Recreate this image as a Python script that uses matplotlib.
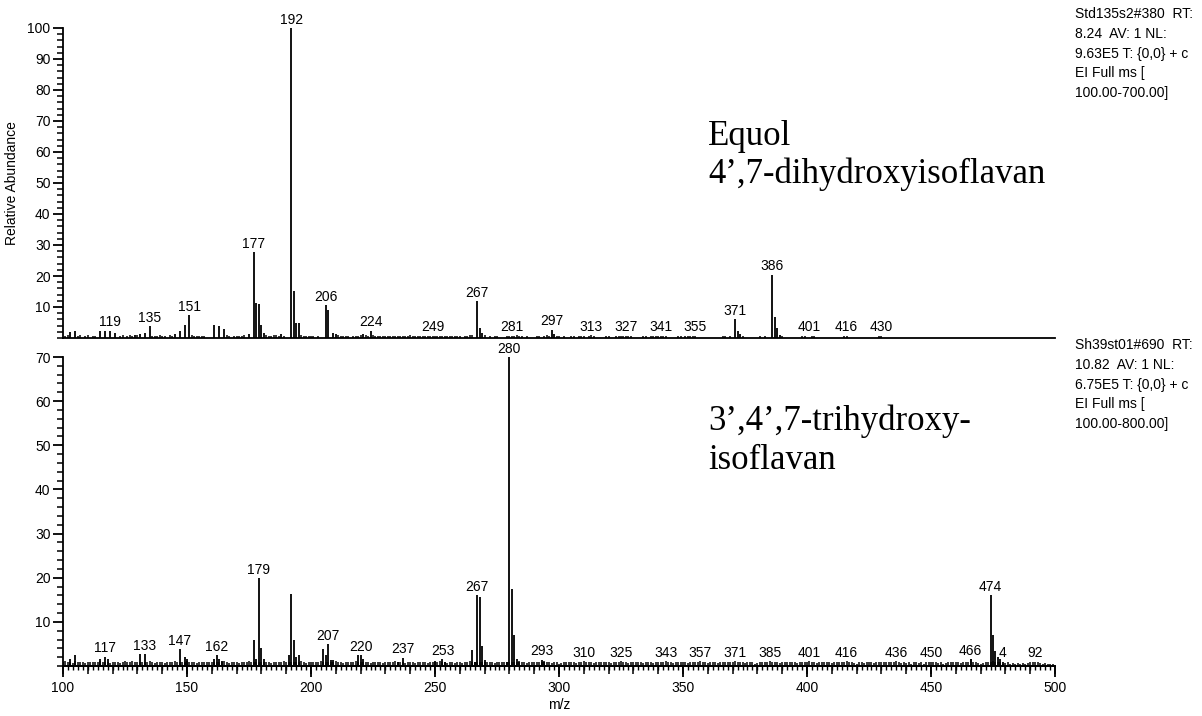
import matplotlib
matplotlib.use("Agg")
import matplotlib.pyplot as plt
from matplotlib.ticker import MultipleLocator

plt.rcParams['font.family'] = ['Liberation Sans', 'DejaVu Sans']

# --- верхний спектр (Equol) ---
top_mz = [103, 105, 115, 117, 119, 121, 129, 131, 133, 135, 145, 147, 149, 151,
          161, 163, 165, 175, 177, 178, 179, 180, 181, 188, 192, 193, 194, 195,
          206, 207, 209, 210, 221, 224, 267, 268, 269, 297, 298, 371, 372, 373,
          386, 387, 388, 389]
top_int = [2.0, 2.4, 2.4, 2.4, 2.4, 1.5, 1.0, 1.3, 1.6, 3.8, 1.2, 2.4, 4.3, 7.3,
           4.3, 3.8, 3.0, 1.3, 27.7, 11.3, 11.1, 4.1, 1.5, 1.4, 100, 15.1, 4.8, 4.8,
           10.5, 9.1, 1.6, 1.3, 1.3, 2.4, 11.8, 3.1, 1.5, 2.7, 1.2, 6.1, 2.4, 1.2,
           20.4, 6.9, 3.1, 1.0]

# мелкие пики (шум) верхнего спектра
top_noise_mz = [101, 102, 106, 107, 109, 110, 112, 113, 123, 124, 126, 127, 128, 130,
                136, 137, 138, 139, 140, 141, 143, 144, 152, 153, 154, 155, 156, 157,
                166, 167, 169, 170, 171, 172, 173, 182, 183, 184, 185, 186, 187, 189,
                196, 197, 198, 199, 200, 201, 203, 211, 212, 213, 214, 215, 217, 218,
                219, 220, 222, 223, 225, 226, 227, 228, 229, 230, 231, 232, 233, 234,
                235, 236, 237, 238, 239, 240, 241, 242, 243, 244, 245, 246, 247, 248,
                249, 250, 251, 252, 253, 254, 255, 256, 257, 258, 259, 260, 262, 263,
                264, 265, 270, 272, 274, 275, 279, 280, 281, 282, 283, 284, 285, 287,
                291, 292, 294, 295, 296, 299, 300, 302, 305, 306, 308, 309, 310, 312,
                313, 314, 319, 320, 323, 324, 325, 326, 327, 328, 329, 334, 335, 337,
                338, 339, 340, 341, 342, 343, 348, 349, 351, 352, 353, 354, 355, 366,
                367, 369, 374, 381, 383, 390, 398, 399, 402, 403, 415, 416, 429, 430]
top_noise_int = [0.8, 0.9, 0.8, 1.0, 0.7, 0.9, 0.8, 0.7, 0.8, 0.9, 0.7, 1.0, 0.8, 0.9,
                 0.7, 0.8, 0.7, 0.9, 0.7, 0.8, 1.0, 0.8, 1.0, 0.8, 0.7, 0.7, 0.8, 0.7,
                 1.0, 0.8, 0.7, 0.8, 0.7, 0.8, 0.9, 1.0, 0.8, 0.7, 1.0, 1.0, 0.8, 0.7,
                 0.9, 0.8, 0.7, 0.7, 0.8, 0.7, 0.8, 1.0, 0.7, 0.6, 0.7, 0.8, 0.7, 0.8,
                 0.7, 0.9, 1.0, 0.8, 0.9, 0.7, 0.6, 0.8, 0.7, 0.6, 0.7, 0.8, 0.7, 0.6,
                 0.7, 0.8, 0.7, 0.6, 0.7, 0.9, 0.7, 0.6, 0.7, 0.8, 0.7, 0.6, 0.7, 0.8,
                 0.6, 0.7, 0.8, 0.7, 0.6, 0.7, 0.8, 0.7, 0.6, 0.7, 0.6, 0.8, 0.7, 0.8,
                 0.9, 1.0, 1.0, 0.8, 0.5, 0.5, 0.7, 0.6, 0.8, 0.7, 0.9, 0.7, 0.6, 0.6,
                 0.6, 0.7, 0.7, 0.9, 0.6, 0.8, 0.6, 0.5, 0.6, 0.7, 0.6, 0.8, 0.7, 0.6,
                 0.9, 0.7, 0.6, 0.7, 0.6, 0.7, 0.8, 0.7, 0.8, 0.7, 0.6, 0.6, 0.7, 0.6,
                 0.7, 0.8, 0.7, 0.8, 0.7, 0.6, 0.6, 0.7, 0.6, 0.7, 0.8, 0.7, 0.7, 0.6,
                 0.7, 0.8, 0.8, 0.6, 0.7, 0.8, 0.7, 0.7, 0.8, 0.7, 0.7, 0.8, 0.7, 0.7]

top_labels = [119, 135, 151, 177, 192, 206, 224, 249, 267, 281, 297, 313, 327,
              341, 355, 371, 386, 401, 416, 430]
top_label_y = [2.4, 3.8, 7.3, 27.7, 100, 10.5, 2.4, 1.0, 11.8, 1.0, 2.7, 1.0, 0.8,
               0.8, 0.8, 6.1, 20.4, 0.8, 0.8, 0.8]

# --- нижний спектр (3',4',7-тригидроксиизофлаван) ---
bot_mz = [103, 105, 115, 117, 118, 131, 133, 147, 149, 150, 161, 162, 163, 164,
          177, 178, 179, 180, 181, 191, 192, 193, 194, 195, 205, 206, 207, 208, 209,
          219, 220, 221, 235, 237, 250, 253, 254, 265, 266, 267, 268, 269, 270,
          279, 280, 281, 282, 283, 284, 293, 294, 466, 474, 475, 476, 477, 478, 479]
bot_int = [1.5, 2.5, 1.5, 2.1, 1.5, 2.7, 2.7, 3.8, 2.1, 1.5, 1.6, 2.5, 1.6, 1.2,
           5.9, 1.6, 19.9, 4.0, 1.5, 2.5, 16.4, 5.9, 2.0, 2.5, 3.8, 2.5, 5.0, 1.3, 1.3,
           2.5, 2.5, 1.5, 1.0, 1.9, 1.2, 1.6, 1.0, 3.6, 1.0, 16.1, 15.6, 4.5, 1.3,
           1.0, 70, 17.5, 7.0, 1.5, 1.0, 1.4, 1.0, 1.6, 16.0, 7.0, 3.3, 2.1, 1.5, 1.0]

# фон нижнего спектра, m/z 100..499
bot_noise = [
    0.9, 1.2, 0.8, 1.0, 0.7, 1.1, 0.9, 0.8, 1.0, 0.7, 0.9, 0.8, 1.0, 0.8, 0.9, 1.2, 0.8, 1.0, 0.9, 0.7,
    0.8, 1.0, 0.9, 0.7, 0.8, 1.1, 0.9, 0.8, 1.2, 0.9, 1.0, 0.8, 0.9, 1.0, 0.8, 1.2, 0.9, 0.7, 0.8, 0.9,
    0.8, 0.7, 0.9, 1.0, 0.8, 1.2, 0.9, 0.8, 1.0, 0.9, 1.1, 1.0, 0.8, 0.9, 0.7, 0.8, 0.9, 1.0, 0.8, 0.9,
    1.0, 0.9, 0.8, 1.0, 0.9, 1.1, 0.8, 0.7, 0.9, 0.8, 0.9, 0.7, 0.8, 0.9, 1.0, 1.2, 0.9, 0.8, 1.0, 0.9,
    0.8, 0.9, 1.0, 0.8, 0.7, 0.9, 0.8, 0.9, 1.0, 1.2, 0.9, 1.0, 0.8, 0.9, 1.0, 0.9, 1.1, 0.8, 0.7, 0.8,
    0.9, 0.8, 0.9, 1.0, 1.2, 0.9, 0.8, 1.0, 0.9, 0.8, 1.1, 0.9, 0.8, 0.7, 0.9, 0.8, 1.0, 0.9, 1.2, 0.9,
    1.0, 0.9, 0.8, 0.9, 0.7, 0.8, 0.9, 1.0, 0.8, 0.7, 0.9, 0.8, 1.0, 0.9, 1.1, 1.0, 0.8, 0.9, 0.7, 0.8,
    0.9, 0.8, 0.7, 0.9, 1.0, 0.8, 0.9, 0.7, 0.8, 1.0, 0.9, 0.8, 1.1, 0.9, 0.8, 0.7, 0.9, 0.8, 0.7, 0.9,
    0.8, 0.7, 0.9, 1.0, 1.1, 0.9, 0.8, 1.0, 0.9, 0.8, 1.0, 0.9, 0.8, 0.9, 0.7, 0.8, 0.9, 0.8, 1.0, 0.9,
    0.9, 0.8, 1.0, 0.9, 1.2, 0.9, 0.8, 0.7, 0.9, 0.8, 0.9, 1.0, 0.8, 1.0, 1.1, 0.9, 0.8, 0.7, 0.9, 0.8,
    0.5, 0.7, 0.8, 0.9, 1.0, 0.8, 0.9, 0.7, 0.8, 1.0, 1.1, 0.9, 0.8, 0.9, 0.7, 0.8, 0.9, 1.0, 0.8, 0.9,
    0.8, 0.7, 0.9, 0.8, 1.0, 1.1, 0.9, 0.8, 0.7, 0.9, 0.8, 0.9, 1.0, 0.8, 0.7, 0.9, 0.8, 0.9, 0.7, 0.8,
    0.9, 0.8, 1.0, 1.1, 0.9, 0.8, 0.7, 0.9, 0.8, 0.9, 1.0, 0.8, 0.7, 0.9, 0.8, 0.9, 1.0, 1.1, 0.9, 0.8,
    0.7, 0.8, 0.9, 0.8, 0.7, 0.9, 1.0, 0.8, 0.9, 0.8, 1.0, 1.1, 0.9, 0.8, 0.9, 0.7, 0.8, 0.9, 0.8, 0.5,
    0.6, 0.8, 0.9, 1.0, 0.8, 1.1, 0.9, 0.8, 0.9, 0.7, 0.8, 0.9, 1.0, 0.8, 0.9, 0.8, 0.7, 0.9, 0.8, 0.9,
    1.0, 1.1, 0.9, 0.8, 0.7, 0.9, 0.8, 0.9, 1.0, 0.8, 0.7, 0.9, 0.8, 0.9, 0.8, 1.0, 1.1, 0.9, 0.8, 0.7,
    0.5, 0.8, 0.9, 0.7, 0.8, 0.9, 0.8, 0.7, 0.9, 0.8, 0.9, 1.0, 0.8, 0.9, 1.0, 0.8, 1.1, 0.9, 0.7, 0.8,
    0.6, 0.8, 0.5, 0.9, 0.8, 0.6, 0.9, 0.5, 0.8, 0.9, 1.0, 0.8, 0.9, 0.6, 0.8, 0.5, 0.7, 0.9, 0.8, 1.0,
    0.9, 0.8, 0.7, 0.9, 1.0, 0.8, 1.6, 1.0, 0.9, 0.7, 0.5, 0.6, 0.8, 0.9, 1.0, 1.2, 1.0, 0.9, 0.8, 0.5,
    0.6, 0.8, 0.5, 0.7, 0.5, 0.6, 0.5, 0.7, 0.5, 0.6, 0.8, 0.9, 1.0, 0.8, 0.7, 0.5, 0.6, 0.5, 0.4, 0.5,
]
bot_noise_mz = list(range(100, 500))

bot_labels = ['117', '133', '147', '162', '179', '207', '220', '237', '253', '267', '280',
              '293', '310', '325', '343', '357', '371', '385', '401', '416', '436', '450',
              '466', '474', '4', '92']
bot_label_x = [117, 133, 147, 162, 179, 207, 220, 237, 253, 267, 280, 293, 310, 325,
               343, 357, 371, 385, 401, 416, 436, 450, 466, 474, 479, 492]
bot_label_y = [2.1, 2.7, 3.8, 2.5, 19.9, 5.0, 2.5, 1.9, 1.6, 16.1, 70, 1.4, 1.1, 1.0,
               1.0, 1.0, 1.1, 1.1, 1.0, 1.0, 1.0, 1.0, 1.6, 16.0, 1.0, 1.0]

top_header = ['Std135s2#380  RT:', '8.24  AV: 1 NL:', '9.63E5 T: {0,0} + c',
              'EI Full ms [', '100.00-700.00]']
bot_header = ['Sh39st01#690  RT:', '10.82  AV: 1 NL:', '6.75E5 T: {0,0} + c',
              'EI Full ms [', '100.00-800.00]']

W, H = 1202, 716
fig = plt.figure(figsize=(W / 100, H / 100), dpi=100)

def box(x0, y_top, x1, y_bot):
    # пиксели -> доли фигуры
    return [x0 / W, 1 - y_bot / H, (x1 - x0) / W, (y_bot - y_top) / H]

ax1 = fig.add_axes(box(63, 28, 1055, 338))
ax2 = fig.add_axes(box(63, 357, 1055, 666))

for ax in (ax1, ax2):
    for s in ('top', 'right'):
        ax.spines[s].set_visible(False)
    ax.spines['left'].set_linewidth(1.3)
    ax.spines['bottom'].set_linewidth(1.3)
    ax.set_xlim(100, 500)
    ax.yaxis.set_major_locator(MultipleLocator(10))
    ax.yaxis.set_minor_locator(MultipleLocator(2))
    ax.tick_params(axis='y', which='major', direction='out', length=7, width=1.3, labelsize=10, pad=2)
    ax.tick_params(axis='y', which='minor', direction='out', length=4, width=1.1)

ax1.set_ylim(0, 100)
ax2.set_ylim(0, 70)
ax1.set_yticks(range(10, 101, 10))
ax2.set_yticks(range(10, 71, 10))

# верх: без подписей и делений по x
ax1.tick_params(axis='x', which='both', bottom=False, labelbottom=False)

ax2.xaxis.set_major_locator(MultipleLocator(50))
ax2.xaxis.set_minor_locator(MultipleLocator(2))
ax2.tick_params(axis='x', which='major', direction='out', length=8, width=1.3, labelsize=10, pad=3)
ax2.tick_params(axis='x', which='minor', direction='out', length=3, width=1.0)
sec = ax2.secondary_xaxis('bottom')
sec.set_xticks(range(100, 501, 10))
sec.tick_params(axis='x', direction='out', length=5.5, width=1.1, labelbottom=False)
sec.spines['bottom'].set_linewidth(1.3)

# спектры
ax1.vlines(top_noise_mz, 0, top_noise_int, color='black', lw=1.1)
ax1.vlines(top_mz, 0, top_int, color='black', lw=1.3)
ax2.vlines(bot_noise_mz, 0, bot_noise, color='black', lw=1.1)
ax2.vlines(bot_mz, 0, bot_int, color='black', lw=1.3)

for m, y in zip(top_labels, top_label_y):
    ax1.annotate(str(m), (m, y), xytext=(0, 1), textcoords='offset points',
                 ha='center', va='bottom', fontsize=10, annotation_clip=False)
for t, m, y in zip(bot_labels, bot_label_x, bot_label_y):
    ax2.annotate(t, (m, y), xytext=(0, 1), textcoords='offset points',
                 ha='center', va='bottom', fontsize=10, annotation_clip=False)

ax1.set_ylabel('Relative Abundance', fontsize=10, labelpad=6)
ax2.set_xlabel('m/z', fontsize=10, labelpad=2)

# названия соединений
serif = ['Liberation Serif', 'DejaVu Serif']
fig.text(708 / W, 1 - 145 / H, 'Equol', family=serif, fontsize=25, va='baseline')
fig.text(708 / W, 1 - 183 / H, '4\u2019,7-dihydroxyisoflavan', family=serif, fontsize=25, va='baseline')
fig.text(708 / W, 1 - 430 / H, '3\u2019,4\u2019,7-trihydroxy-', family=serif, fontsize=25, va='baseline')
fig.text(708 / W, 1 - 469 / H, 'isoflavan', family=serif, fontsize=25, va='baseline')

# служебная информация прибора
for i, line in enumerate(top_header):
    fig.text(1075 / W, 1 - (14 + 19.8 * i) / H, line, fontsize=10, va='center')
for i, line in enumerate(bot_header):
    fig.text(1075 / W, 1 - (345 + 19.8 * i) / H, line, fontsize=10, va='center')

fig.savefig('out.png', dpi=100)
